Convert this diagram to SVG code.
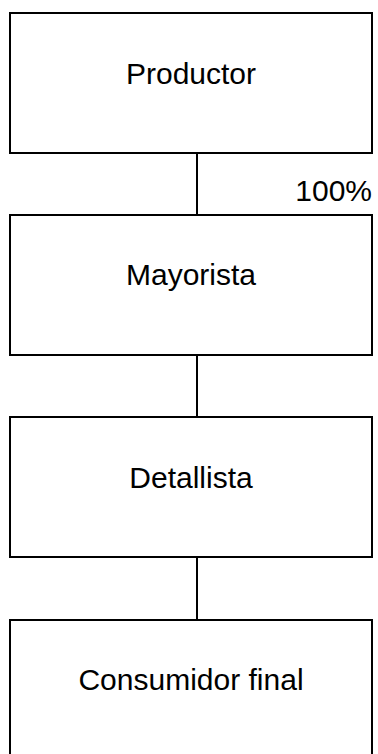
<svg xmlns="http://www.w3.org/2000/svg" width="378" height="754" viewBox="0 0 378 754">
<style>
.box{fill:#fff;stroke:#000;stroke-width:2}
.lbl{font-family:"Liberation Sans",Arial,sans-serif;font-size:30px;fill:#000;text-anchor:middle}
.conn{stroke:#000;stroke-width:2;fill:none}
</style>
<rect width="378" height="754" fill="#fff"/>
<g id="connectors">
<line class="conn" x1="197" y1="153" x2="197" y2="215"/>
<line class="conn" x1="197" y1="355" x2="197" y2="417"/>
<line class="conn" x1="197" y1="557" x2="197" y2="620"/>
<text x="372" y="201" class="lbl" style="text-anchor:end">100%</text>
</g>
<g id="productor">
<rect class="box" x="10" y="13" width="362" height="140"/>
<text class="lbl" x="191" y="84">Productor</text>
</g>
<g id="mayorista">
<rect class="box" x="10" y="215" width="362" height="140"/>
<text class="lbl" x="191" y="285">Mayorista</text>
</g>
<g id="detallista">
<rect class="box" x="10" y="417" width="362" height="140"/>
<text class="lbl" x="191" y="488">Detallista</text>
</g>
<g id="consumidor">
<rect class="box" x="10" y="620" width="362" height="140"/>
<text class="lbl" x="191" y="690">Consumidor final</text>
</g>
</svg>
